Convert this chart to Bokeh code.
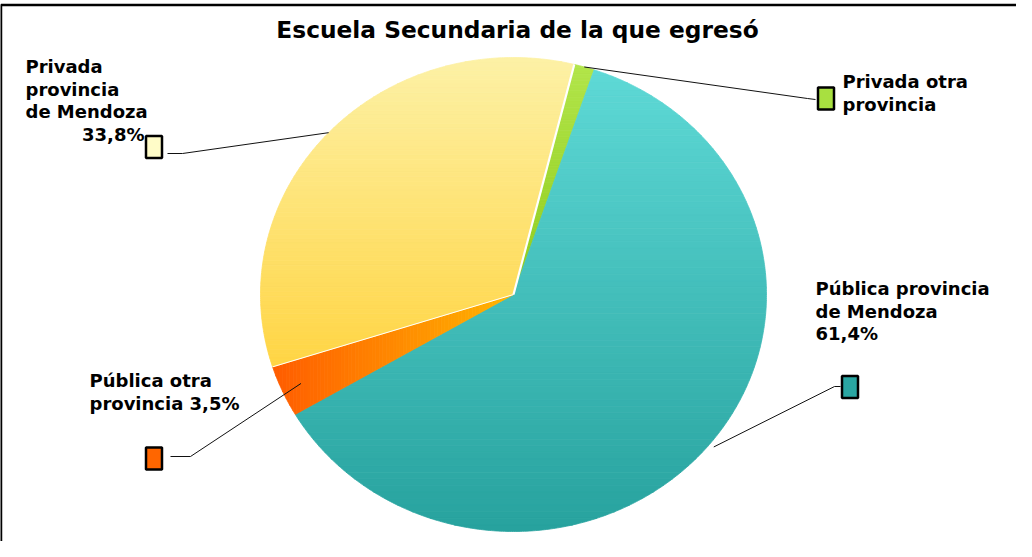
import numpy as np
from bokeh.plotting import figure
from bokeh.models import Range1d
from bokeh.core.properties import value
from bokeh.embed import file_html
from bokeh.resources import INLINE

# ---------------- data ----------------
title = "Escuela Secundaria de la que egresó"
categories = ["Privada otra provincia", "Pública provincia de Mendoza",
              "Pública otra provincia", "Privada provincia de Mendoza"]
values = [1.3, 61.4, 3.5, 33.8]
label_lines = [
    ["Privada otra", "provincia"],
    ["Pública provincia", "de Mendoza", "61,4%"],
    ["Pública otra", "provincia 3,5%"],
    ["Privada", "provincia", "de Mendoza", "33,8%"],
]

# ---------------- layout / style ----------------
W, H = 1016, 541
OFF = 8  # page margin, data coords = page px - 8
cx, cy = 521 - OFF, 302 - OFF
rx, ry = 253, 237
start_deg = 13.9  # clockwise from top

grad = [  # (direction, color_start, color_end)
    ("v", "#B2E54A", "#8FCB1C"),
    ("v", "#5ED9D6", "#27A29E"),
    ("h", "#FF5C00", "#FFB600"),
    ("v", "#FDF1A6", "#FFD544"),
]
legend_fill = ["#A8E040", "#2AA6A2", "#FF6600", "#FFFCC8"]

FONT = value("DejaVu Sans")

p = figure(width=W, height=H, output_backend="svg", toolbar_location=None,
           x_range=Range1d(0, W), y_range=Range1d(H, 0),
           x_axis_location=None, y_axis_location=None,
           min_border=0, outline_line_color=None)
p.xgrid.visible = False
p.ygrid.visible = False
p.background_fill_color = "white"


def pt(theta_deg, r=1.0):
    t = np.radians(theta_deg)
    return cx + r * rx * np.sin(t), cy - r * ry * np.cos(t)


def clip_half(pts, axis, val, keep_greater):
    out = []
    n = len(pts)
    for i in range(n):
        cur, prev = pts[i], pts[i - 1]
        cin = cur[axis] >= val if keep_greater else cur[axis] <= val
        pin = prev[axis] >= val if keep_greater else prev[axis] <= val
        if cin != pin:
            d = cur[axis] - prev[axis]
            f = (val - prev[axis]) / d if d != 0 else 0
            out.append((prev[0] + f * (cur[0] - prev[0]), prev[1] + f * (cur[1] - prev[1])))
        if cin:
            out.append(cur)
    return out


def lerp(c1, c2, f):
    a = [int(c1[i:i + 2], 16) for i in (1, 3, 5)]
    b = [int(c2[i:i + 2], 16) for i in (1, 3, 5)]
    return "#%02x%02x%02x" % tuple(int(round(a[k] + (b[k] - a[k]) * f)) for k in range(3))


total = sum(values)
angles = [start_deg]
for v in values:
    angles.append(angles[-1] + v / total * 360.0)

for i, v in enumerate(values):
    a0, a1 = angles[i], angles[i + 1]
    ts = np.linspace(a0, a1, max(8, int((a1 - a0) * 2)))
    poly = [(cx, cy)] + [pt(t) for t in ts]
    axis = 1 if grad[i][0] == "v" else 0
    lo = min(q[axis] for q in poly)
    hi = max(q[axis] for q in poly)
    nb = 70
    edges = np.linspace(lo, hi, nb + 1)
    xs, ys, cols = [], [], []
    for b in range(nb):
        piece = clip_half(poly, axis, edges[b], True)
        piece = clip_half(piece, axis, edges[b + 1], False)
        if len(piece) < 3:
            continue
        xs.append([q[0] for q in piece])
        ys.append([q[1] for q in piece])
        cols.append(lerp(grad[i][1], grad[i][2], (b + 0.5) / nb))
    p.patches(xs, ys, fill_color=cols, line_color=cols, line_width=0.8)

# white separators around the yellow slice
for a, w in ((angles[0], 2.2), (angles[3], 1.0)):
    ex, ey = pt(a)
    p.line([cx, ex], [cy, ey], line_color="white", line_width=w)

# leader lines, legend boxes
anchor_r = [1.0, 1.02, 0.92, 1.0]
elbows = [(815, 106), (842, 394), (198, 464), (190, 161)]
box_ends = [(823, 107), (848, 394), (178, 464), (175, 161)]
boxes = [(833.5, 106), (857.5, 394.5), (161.5, 466), (161.5, 154.5)]
for i in range(4):
    mid = (angles[i] + angles[i + 1]) / 2
    ax_, ay_ = pt(mid, anchor_r[i])
    ex, ey = elbows[i][0] - OFF, elbows[i][1] - OFF
    bx, by = box_ends[i][0] - OFF, box_ends[i][1] - OFF
    p.line([ax_, ex, bx], [ay_, ey, by], line_color="#111111", line_width=1)
p.rect([b[0] - OFF for b in boxes], [b[1] - OFF for b in boxes], width=16, height=22,
       fill_color=legend_fill, line_color="black", line_width=2.5)

# labels
label_pos = [  # (x, first baseline, align)
    (850, 89, "left"),
    (823, 296, "left"),
    (97, 388, "left"),
    (33, 74, "left"),
]
step = 22.5
for i, lines in enumerate(label_lines):
    x0, y0, al = label_pos[i]
    for j, s in enumerate(lines):
        xx, aa = x0 - OFF, al
        if i == 3 and j == 3:
            xx, aa = 152 - OFF, "right"
        p.text([xx], [y0 - OFF + j * step], text=[s], text_font=FONT, text_font_style="bold",
               text_font_size="18px", text_align=aa, text_baseline="alphabetic", text_color="black")

p.text([525 - OFF], [37 - OFF], text=[title], text_font=FONT, text_font_style="bold",
       text_font_size="23.3px", text_align="center", text_baseline="alphabetic", text_color="black")

# frame
p.line([0.5, 0.5, W], [H, 4.5, 4.5], line_color="black", line_width=2.5)

open("out.html", "w").write(file_html(p, INLINE))
